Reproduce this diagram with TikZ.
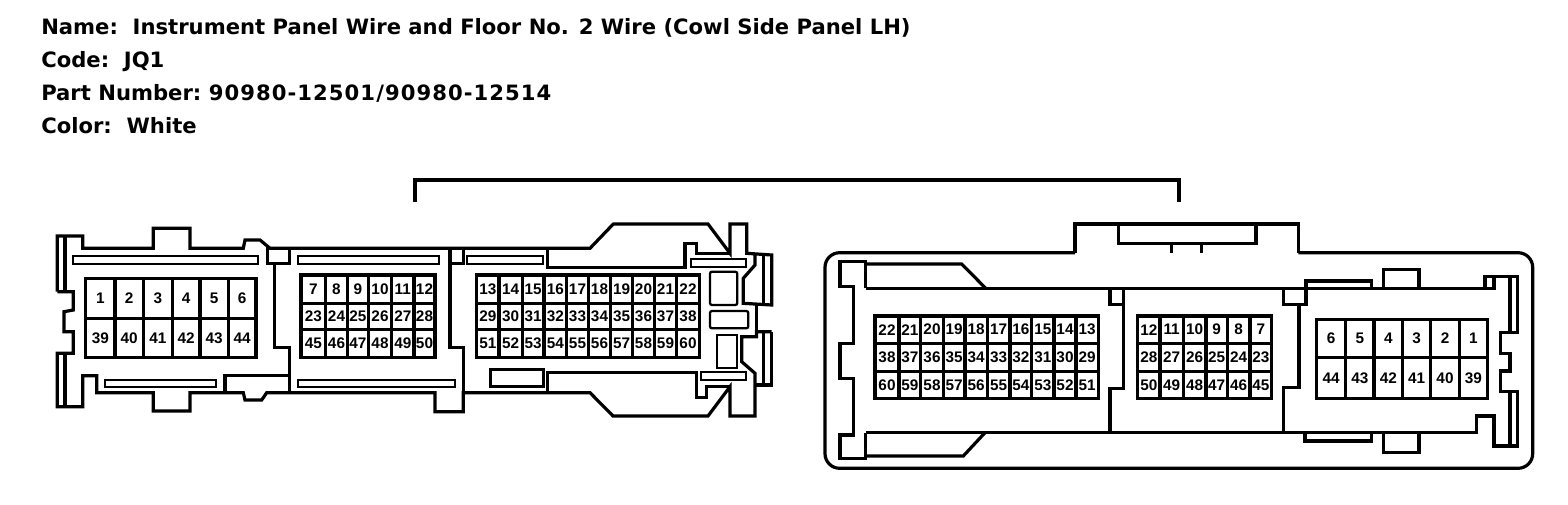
\documentclass[tikz,border=0pt]{standalone}
\usepackage{fontspec}
\setmainfont{Liberation Sans}
\newfontfamily\headfont{DejaVu Sans}
\tikzset{
  wire/.style={draw=black,line width=2.4pt,line join=miter,fill=none},
  slotline/.style={draw=black,line width=1.7pt,line join=miter,fill=none},
  cellbox/.style={draw=black,line width=2.3pt,inner sep=0pt,outer sep=0pt,font=\fontsize{11.5}{12}\selectfont\bfseries,text=black},
  title/.style={anchor=base west,inner sep=0pt,font=\headfont\fontsize{15.85}{18}\selectfont\bfseries,text=black}
}
\newcommand{\gridrow}[5]{%
  \foreach \lab [count=\i from 0] in {#4}{%
    \pgfmathsetmacro{\xa}{{#1}[\i]}%
    \pgfmathsetmacro{\xb}{{#1}[\i+1]}%
    \pgfmathsetmacro{\cellw}{(\xb-\xa)*0.75}%
    \pgfmathsetmacro{\cellh}{(#3-#2)*0.75}%
    \node[cellbox,minimum width=\cellw pt,minimum height=\cellh pt] (#5\lab) at ({(\xa+\xb)/2},{(#2+#3)/2}) {\lab};
  }}
\begin{document}
\begin{tikzpicture}[x=0.75pt,y=-0.75pt]
\path[use as bounding box,fill=white] (0,0) rectangle (1568,504);
% titles
\node[title] (t1) at (41,34) {Name:\ \ Instrument Panel Wire and Floor No. 2 Wire (Cowl Side Panel LH)};
\node[title] (t2) at (41,67) {Code:\ \ JQ1};
\node[title] (t3) at (41,100) {Part Number:\ {\addfontfeature{LetterSpace=5}90980-12501/90980-12514}};
\node[title] (t4) at (41,133) {Color:\ \ White};
% bracket
\draw[wire] (415,202) -- (415,180) -- (1179,180) -- (1179,202);
% ---------- left connector ----------
\draw[wire] (57.3,291.7) -- (57.3,236) -- (82.7,236) -- (82.7,248.3) -- (153.3,248.3) -- (153.3,228.3) -- (190,228.3) -- (190,248.3) -- (243.3,248.3) -- (245,240) -- (260,240) -- (270,248.3) -- (590,248.3) -- (613.3,224) -- (708,224) -- (730,253.3) -- (730,224) -- (746.7,224) -- (746.7,253.3) -- (771.7,255) -- (771.7,305) -- (743.3,303.3) -- (743.3,278.3) -- (755,265) -- (755,253.3);
\draw[wire] (756.5,305) -- (756.5,331.7);
\draw[wire] (771.7,331.7) -- (771.7,385) -- (755,385);
\draw[wire] (771.7,331.7) -- (756.5,331.7) -- (756.5,336.7) -- (741.7,336.7) -- (741.7,361.7) -- (755,373.3) -- (755,416) -- (730,416) -- (730,386.7) -- (708,416) -- (613,416) -- (590,392.7) -- (463.3,392.7) -- (463.3,411.7) -- (435,411.7) -- (435,392.7) -- (266.7,392.7) -- (261.7,400) -- (245,400) -- (243.3,392.7) -- (190,392.7) -- (190,411) -- (153.3,411) -- (153.3,392.7) -- (96.7,392.7) -- (96.7,375.7) -- (82.7,375.7) -- (82.7,406.7) -- (57.3,406.7) -- (57.3,353.3) -- (73.3,353.3) -- (73.3,331.7) -- (64,331.7) -- (64,311.7) -- (73.3,310) -- (73.3,291.7) -- (57.3,291.7);
\draw[wire] (65,237) -- (65,291.7) (65,353.3) -- (65,406);
\draw[wire] (763.3,255) -- (763.3,305) (763.3,331.7) -- (763.3,385);
% inner walls and slots, left connector
\draw[slotline] (73.3,256.3) rectangle (258.3,263.7);
\draw[slotline] (298.3,256.3) rectangle (439,263.7);
\draw[slotline] (466.7,256.3) rectangle (543.3,263.7);
\draw[slotline] (105,380) rectangle (216,387);
\draw[slotline] (298.3,380) rectangle (455,387);
\draw[wire] (267.3,248.3) rectangle (289.3,263.3);
\draw[wire] (274.3,263.3) -- (274.3,347.3) -- (289.3,347.3) -- (289.3,392.7);
\draw[wire] (225,392.7) -- (225,375.7) -- (289.3,375.7);
\draw[wire] (450,248.3) -- (450,347.3) -- (463.3,347.3) -- (463.3,392.7);
\draw[wire] (450,263.3) -- (463.3,263.3) -- (463.3,248.3);
\draw[wire] (547.3,248.3) -- (547.3,267.3) -- (685,267.3) -- (685,243.3) -- (696.7,243.3) -- (696.7,253.3) -- (730,253.3);
\draw[slotline] (690.7,259.3) rectangle (746,266.7);
\draw[slotline,rounded corners=1.5pt] (710,271.7) rectangle (737.3,305);
\draw[slotline,rounded corners=1.5pt] (710,311) rectangle (748.3,328.3);
\draw[slotline] (716.7,335) rectangle (737.3,368.3);
\draw[slotline] (700.7,372.3) rectangle (746,380);
\draw[wire] (490.7,369.3) rectangle (543.3,386.7);
\draw[wire] (547.3,392.7) -- (547.3,372.7) -- (696.7,372.7) -- (696.7,397.3) -- (706.7,397.3) -- (706.7,386.7) -- (730,386.7);
% grids, left connector
\gridrow{85.7,115,143.3,172.3,200,228.3,256}{278.3}{318.3}{1,2,3,4,5,6}{la}
\gridrow{85.7,115,143.3,172.3,200,228.3,256}{318.3}{357.3}{39,40,41,42,43,44}{la}
\gridrow{301,325.7,347.3,368.3,391.7,414,435}{275}{303.3}{7,8,9,10,11,12}{lb}
\gridrow{301,325.7,347.3,368.3,391.7,414,435}{303.3}{329.3}{23,24,25,26,27,28}{lb}
\gridrow{301,325.7,347.3,368.3,391.7,414,435}{329.3}{357.3}{45,46,47,48,49,50}{lb}
\gridrow{476.7,499,522.3,544,566.7,588.3,610.7,632.7,654.3,676.7,699.3}{275}{303.3}{13,14,15,16,17,18,19,20,21,22}{lc}
\gridrow{476.7,499,522.3,544,566.7,588.3,610.7,632.7,654.3,676.7,699.3}{303.3}{329.3}{29,30,31,32,33,34,35,36,37,38}{lc}
\gridrow{476.7,499,522.3,544,566.7,588.3,610.7,632.7,654.3,676.7,699.3}{329.3}{357.3}{51,52,53,54,55,56,57,58,59,60}{lc}
% ---------- right connector ----------
\draw[wire,rounded corners=11pt] (1075,252.7) -- (825,252.7) -- (825,468.3) -- (1532.7,468.3) -- (1532.7,252.7) -- (1298.3,252.7);
\draw[wire] (1075,252.7) -- (1075,224) -- (1298.3,224) -- (1298.3,252.7);
\draw[wire] (1118.3,224) -- (1118.3,243.3) -- (1256,243.3) -- (1256,224);
\draw[wire] (1171.7,243.3) -- (1171.7,252.7) (1201.7,243.3) -- (1201.7,252.7);
% inner outline
\draw[wire] (985.7,288.3) -- (961.7,264) -- (865.7,264);
\draw[wire] (865.7,288.3) -- (865.7,261.7) -- (840,261.7) -- (840,286.7) -- (853.3,286.7) -- (853.3,343.3) -- (840,343.3) -- (840,378.3) -- (853.3,378.3) -- (853.3,435) -- (840,435) -- (840,458.3) -- (865.7,458.3) -- (865.7,432.7);
\draw[wire] (865.7,456) -- (963.3,456) -- (985,432.7);
\draw[wire] (865.7,288.3) -- (1485,288.3) -- (1485,276.7) -- (1517.7,276.7) -- (1517.7,332.7) -- (1500.7,332.7) -- (1500.7,353.3) -- (1510,353.3) -- (1510,371) -- (1500.7,371) -- (1500.7,391.7) -- (1517.7,391.7) -- (1517.7,446) -- (1494,446) -- (1494,416) -- (1476.7,416) -- (1476.7,432.7) -- (865.7,432.7);
\draw[wire] (1494,276.7) -- (1494,288.3) -- (1485,288.3);
\draw[wire] (1510,276.7) -- (1510,332.7) (1510,391.7) -- (1510,446);
\draw[wire] (1110,288.3) -- (1110,304.3) -- (1123.3,304.3) -- (1123.3,288.3);
\draw[wire] (1123.3,304.3) -- (1123.3,388.3) -- (1110,388.3) -- (1110,432.7);
\draw[wire] (1283.3,288.3) -- (1283.3,304.3) -- (1306,304.3) -- (1306,281) -- (1371.7,281) -- (1371.7,288.3);
\draw[wire] (1299,304.3) -- (1299,387.7) -- (1283.3,387.7) -- (1283.3,432.7);
\draw[wire] (1383.3,288.3) -- (1383.3,269.3) -- (1419,269.3) -- (1419,288.3);
\draw[wire] (1305,432.7) -- (1305,441) -- (1371.7,441) -- (1371.7,432.7);
\draw[wire] (1383.3,432.7) -- (1383.3,452.7) -- (1419,452.7) -- (1419,432.7);
% grids, right connector
\gridrow{875,899,920.7,943.3,965,987.3,1010,1031.7,1054,1076,1098.3}{316}{343.3}{22,21,20,19,18,17,16,15,14,13}{ra}
\gridrow{875,899,920.7,943.3,965,987.3,1010,1031.7,1054,1076,1098.3}{343.3}{371.7}{38,37,36,35,34,33,32,31,30,29}{ra}
\gridrow{875,899,920.7,943.3,965,987.3,1010,1031.7,1054,1076,1098.3}{371.7}{398.3}{60,59,58,57,56,55,54,53,52,51}{ra}
\gridrow{1137.7,1160,1183.3,1206,1227.3,1250,1271.7}{316}{343.3}{12,11,10,9,8,7}{rb}
\gridrow{1137.7,1160,1183.3,1206,1227.3,1250,1271.7}{343.3}{371.7}{28,27,26,25,24,23}{rb}
\gridrow{1137.7,1160,1183.3,1206,1227.3,1250,1271.7}{371.7}{398.3}{50,49,48,47,46,45}{rb}
\gridrow{1316.7,1345.7,1374,1402.7,1430.7,1459.3,1487.3}{319.3}{357.7}{6,5,4,3,2,1}{rc}
\gridrow{1316.7,1345.7,1374,1402.7,1430.7,1459.3,1487.3}{357.7}{398.3}{44,43,42,41,40,39}{rc}
\end{tikzpicture}
\end{document}
